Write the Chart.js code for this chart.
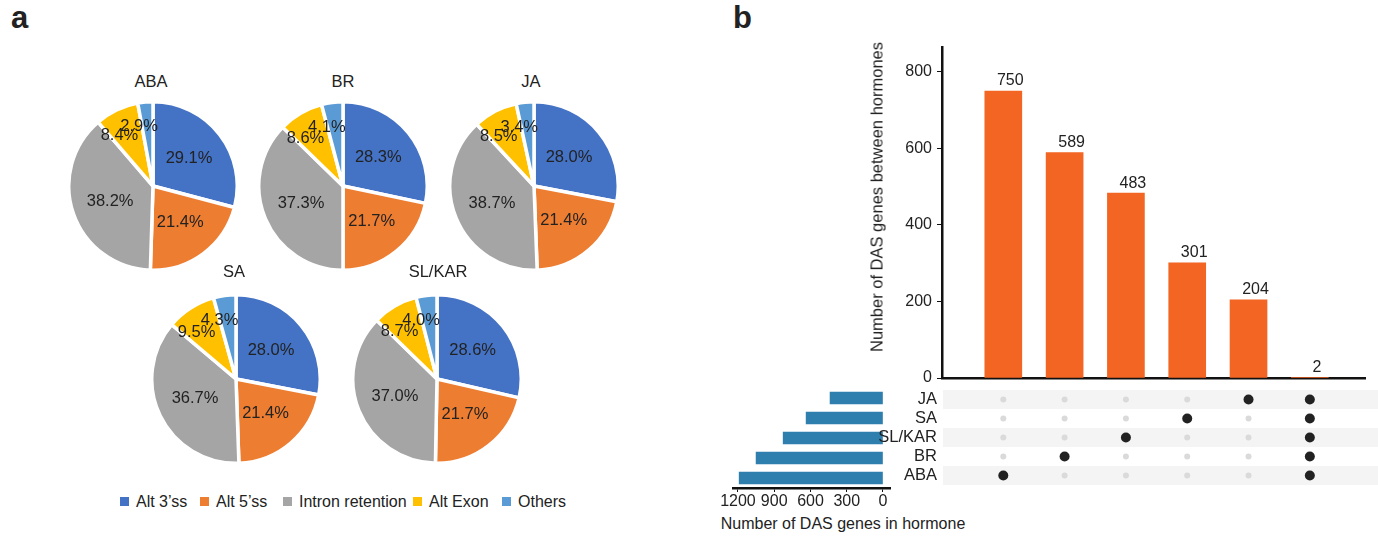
<!DOCTYPE html>
<html>
<head>
<meta charset="utf-8">
<script src="https://cdn.jsdelivr.net/npm/chart.js@4.4.1/dist/chart.umd.min.js"></script>
<style>
body { margin: 0; width: 1378px; height: 539px; position: relative; background: #fff; overflow: hidden;
       font-family: "Liberation Sans", Arial, sans-serif; color: #222; }
canvas { position: absolute; }
.t { position: absolute; white-space: nowrap; font-size: 16.5px; transform: translate(-50%, -50%); }
.panel { position: absolute; font-weight: bold; font-size: 31px; color: #222; }
.lg { position: absolute; top: 493px; font-size: 16px; white-space: nowrap; }
.lg i { display: inline-block; width: 9px; height: 9px; margin-right: 7px; vertical-align: 1px; }
</style>
</head>
<body>
<div class="panel" style="left:11px;top:0px">a</div>
<div class="panel" style="left:733px;top:0px">b</div>

<canvas id="pieABA" width="172" height="172" style="left:67px;top:100px"></canvas>
<canvas id="pieBR" width="172" height="172" style="left:257px;top:100px"></canvas>
<canvas id="pieJA" width="172" height="172" style="left:448px;top:100px"></canvas>
<canvas id="pieSA" width="172" height="172" style="left:150px;top:293px"></canvas>
<canvas id="pieSLKAR" width="172" height="172" style="left:351px;top:293px"></canvas>

<div class="t" style="left:151px;top:81px">ABA</div>
<div class="t" style="left:343px;top:81px">BR</div>
<div class="t" style="left:531px;top:81px">JA</div>
<div class="t" style="left:234px;top:271px">SA</div>
<div class="t" style="left:438px;top:271px">SL/KAR</div>

<div id="legend"></div>

<canvas id="topBars" width="518" height="345" style="left:860px;top:40px"></canvas>
<canvas id="setBars" width="200" height="130" style="left:700px;top:380px"></canvas>
<canvas id="dots" width="578" height="105" style="left:800px;top:385px"></canvas>

<div class="t" style="left:877px;top:197px;transform:translate(-50%,-50%) rotate(-90deg)">Number of DAS genes between hormones</div>
<div class="t" style="left:843px;top:524px;font-size:16px">Number of DAS genes in hormone</div>

<script>
// splice-type shares per hormone (%)
const spliceTypes = ['Alt 3\u2019ss', 'Alt 5\u2019ss', 'Intron retention', 'Alt Exon', 'Others'];
const spliceColors = ['#4472c4', '#ed7d31', '#a5a5a5', '#ffc000', '#5b9bd5'];
const abaPct = [29.1, 21.4, 38.2, 8.4, 2.9];
const brPct = [28.3, 21.7, 37.3, 8.6, 4.1];
const jaPct = [28.0, 21.4, 38.7, 8.5, 3.4];
const saPct = [28.0, 21.4, 36.7, 9.5, 4.3];
const slkarPct = [28.6, 21.7, 37.0, 8.7, 4.0];

// upset plot
const hormones = ['JA', 'SA', 'SL/KAR', 'BR', 'ABA'];
const setSizes = [438, 636, 826, 1050, 1190];
const intersections = [['ABA'], ['BR'], ['SL/KAR'], ['SA'], ['JA'], ['ABA', 'BR', 'SL/KAR', 'SA', 'JA']];
const intersectionSizes = [750, 589, 483, 301, 204, 2];
const countTicks = [0, 200, 400, 600, 800];
const setTicks = [0, 300, 600, 900, 1200];

Chart.defaults.font.family = '"Liberation Sans", Arial, sans-serif';
Chart.defaults.font.size = 16;
Chart.defaults.color = '#222';

const noPlugins = { legend: { display: false }, tooltip: { enabled: false } };

const pctLabels = {
    id: 'pctLabels',
    afterDatasetsDraw(chart) {
        const ctx = chart.ctx;
        const vals = chart.data.datasets[0].data;
        ctx.save();
        ctx.font = '16.5px "Liberation Sans", Arial, sans-serif';
        ctx.fillStyle = '#222';
        ctx.textAlign = 'center';
        ctx.textBaseline = 'middle';
        chart.getDatasetMeta(0).data.forEach((arc, i) => {
            const p = arc.getProps(['x', 'y', 'startAngle', 'endAngle', 'outerRadius'], true);
            const small = vals[i] < 10;
            const a = (p.startAngle + p.endAngle) / 2 - (small ? 8 * Math.PI / 180 : 0);
            const r = p.outerRadius * (small ? 0.72 : 0.54);
            ctx.fillText(vals[i].toFixed(1) + '%', p.x + Math.cos(a) * r, p.y + Math.sin(a) * r);
        });
        ctx.restore();
    }
};

function makePie(id, values) {
    new Chart(document.getElementById(id), {
        type: 'pie',
        data: {
            labels: spliceTypes,
            datasets: [{ data: values, backgroundColor: spliceColors, borderColor: '#fff', borderWidth: 3.5 }]
        },
        options: { responsive: false, animation: false, plugins: noPlugins },
        plugins: [pctLabels]
    });
}
makePie('pieABA', abaPct);
makePie('pieBR', brPct);
makePie('pieJA', jaPct);
makePie('pieSA', saPct);
makePie('pieSLKAR', slkarPct);

// legend
const legendX = [120, 200, 283, 413, 502];
document.getElementById('legend').innerHTML = spliceTypes.map((name, i) =>
    `<div class="lg" style="left:${legendX[i]}px"><i style="background:${spliceColors[i]}"></i>${name}</div>`
).join('');

const valueLabels = {
    id: 'valueLabels',
    afterDatasetsDraw(chart) {
        const ctx = chart.ctx;
        ctx.save();
        ctx.font = '16px "Liberation Sans", Arial, sans-serif';
        ctx.fillStyle = '#222';
        ctx.textAlign = 'center';
        ctx.textBaseline = 'bottom';
        chart.getDatasetMeta(0).data.forEach((bar, i) => {
            ctx.fillText(intersectionSizes[i], bar.x + 7, bar.y - 2);
        });
        ctx.restore();
    }
};

new Chart(document.getElementById('topBars'), {
    type: 'bar',
    data: {
        datasets: [{
            data: intersectionSizes.map((v, i) => ({ x: i + 1, y: v })),
            backgroundColor: '#f26522',
            barThickness: 37
        }]
    },
    options: {
        responsive: false,
        animation: false,
        plugins: noPlugins,
        layout: { padding: { top: 7, right: 13, bottom: 7, left: 0 } },
        scales: {
            x: {
                type: 'linear', min: 0, max: 6.9, offset: false, z: 1,
                ticks: { display: false },
                grid: { display: false },
                border: { color: '#111', width: 2.5 },
                afterFit(s) { s.height = 0; s.paddingLeft = 0; s.paddingRight = 0; }
            },
            y: {
                min: 0, max: 865,
                afterBuildTicks(s) { s.ticks = countTicks.map(v => ({ value: v })); },
                ticks: { padding: 5 },
                grid: { drawOnChartArea: false, tickLength: 5, color: '#111' },
                border: { color: '#111', width: 2.5 },
                afterFit(s) { s.width = 82; s.paddingTop = 0; s.paddingBottom = 0; }
            }
        }
    },
    plugins: [valueLabels]
});

const rowBands = {
    id: 'rowBands',
    beforeDatasetsDraw(chart) {
        const { ctx, chartArea } = chart;
        const ys = chart.scales.y;
        const h = ys.getPixelForValue(1) - ys.getPixelForValue(0);
        ctx.save();
        ctx.fillStyle = '#f4f4f4';
        hormones.forEach((name, i) => {
            if (i % 2) return;
            const c = ys.getPixelForValue(i);
            ctx.fillRect(chartArea.left + 1, c - h / 2, chart.width - chartArea.left, h);
        });
        ctx.restore();
    }
};

const offDots = [];
const onDots = [];
intersections.forEach((set, i) => {
    hormones.forEach(h => {
        (set.includes(h) ? onDots : offDots).push({ x: i + 1, y: h });
    });
});

new Chart(document.getElementById('dots'), {
    type: 'scatter',
    data: {
        datasets: [
            { data: offDots, pointRadius: 3, backgroundColor: '#dadada', borderWidth: 0 },
            { data: onDots, pointRadius: 5, backgroundColor: '#222', borderWidth: 0 }
        ]
    },
    options: {
        responsive: false,
        animation: false,
        plugins: noPlugins,
        layout: { padding: { top: 4, right: 13, bottom: 2, left: 0 } },
        scales: {
            x: { type: 'linear', min: 0, max: 6.9, display: false },
            y: {
                type: 'category', labels: hormones, offset: true,
                ticks: { padding: 5, autoSkip: false, font: { size: 16.5 } },
                grid: { display: false, drawTicks: false },
                border: { display: false },
                afterFit(s) { s.width = 142; s.paddingTop = 0; s.paddingBottom = 0; }
            }
        }
    },
    plugins: [rowBands]
});

new Chart(document.getElementById('setBars'), {
    type: 'bar',
    data: {
        labels: hormones,
        datasets: [{ data: setSizes, backgroundColor: '#2e7fae', barThickness: 12 }]
    },
    options: {
        indexAxis: 'y',
        responsive: false,
        animation: false,
        plugins: noPlugins,
        layout: { padding: { top: 8, right: 10, bottom: 2, left: 33 } },
        scales: {
            y: { display: false },
            x: {
                reverse: true, min: -58, max: 1241,
                afterBuildTicks(s) { s.ticks = setTicks.map(v => ({ value: v })); },
                ticks: { padding: 0, maxRotation: 0, autoSkip: false, callback: v => String(v) },
                grid: { drawOnChartArea: false, tickLength: 4, color: '#111' },
                border: { color: '#111', width: 2.5 },
                afterFit(s) { s.height = 20; s.paddingLeft = 0; s.paddingRight = 0; }
            }
        }
    }
});
</script>
</body>
</html>
